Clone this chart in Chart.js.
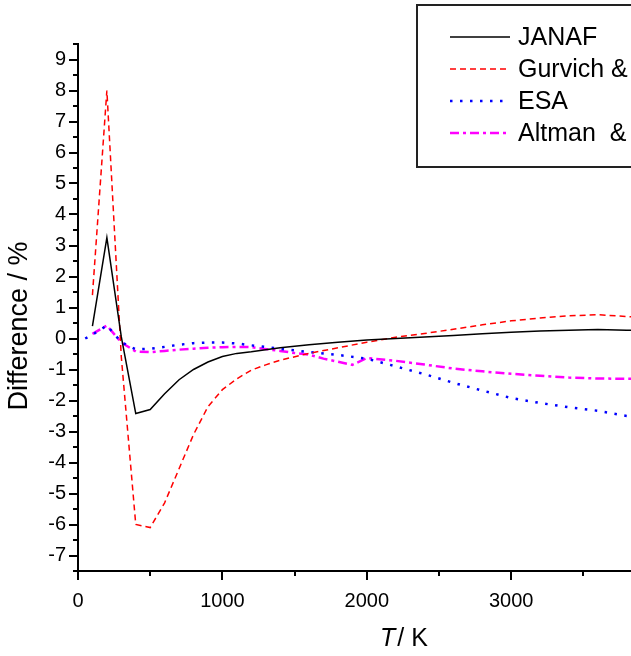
<!DOCTYPE html>
<html>
<head>
<meta charset="utf-8">
<script src="https://cdn.jsdelivr.net/npm/chart.js@4"></script>
<style>
  body { margin: 0; background: #fff; }
  canvas { display: block; }
</style>
</head>
<body>
<canvas id="grafico" width="631" height="656"></canvas>
<script>
// dados (T em K, diferença em %)
const seriesNames = ['JANAF', 'Gurvich &', 'ESA', 'Altman  &'];

const tJanaf = [100, 200, 300, 400, 500, 600, 700, 800, 900, 1000, 1100, 1200, 1400, 1600, 1800, 2000, 2200, 2400, 2600, 2800, 3000, 3200, 3400, 3600, 3800, 4000];
const janaf  = [0.4, 3.25, 0.05, -2.42, -2.29, -1.78, -1.33, -1.0, -0.76, -0.58, -0.48, -0.43, -0.3, -0.2, -0.12, -0.05, 0.0, 0.05, 0.1, 0.15, 0.2, 0.24, 0.27, 0.29, 0.27, 0.25];

const tGurvich = [100, 200, 300, 400, 500, 600, 700, 800, 900, 1000, 1100, 1200, 1300, 1400, 1600, 1800, 2000, 2200, 2400, 2600, 2800, 3000, 3200, 3400, 3600, 3800, 4000];
const gurvich  = [1.4, 8.0, -0.6, -6.0, -6.1, -5.3, -4.2, -3.1, -2.2, -1.65, -1.3, -1.02, -0.85, -0.7, -0.48, -0.3, -0.12, 0.04, 0.16, 0.3, 0.44, 0.57, 0.66, 0.73, 0.77, 0.71, 0.65];

const tEsa = [50, 100, 200, 300, 400, 500, 600, 700, 800, 900, 1000, 1100, 1200, 1400, 1600, 1800, 2000, 2200, 2400, 2600, 2800, 3000, 3200, 3400, 3600, 3800, 4000];
const esa  = [0.0, 0.12, 0.42, -0.12, -0.35, -0.33, -0.27, -0.2, -0.15, -0.13, -0.13, -0.16, -0.22, -0.33, -0.44, -0.53, -0.65, -0.9, -1.15, -1.43, -1.68, -1.92, -2.08, -2.22, -2.33, -2.5, -2.6];

const tAltman = [100, 200, 300, 400, 500, 600, 700, 800, 900, 1000, 1100, 1200, 1400, 1500, 1600, 1700, 1800, 1900, 2000, 2200, 2400, 2600, 2800, 3000, 3200, 3400, 3600, 3800, 4000];
const altman  = [0.15, 0.42, -0.13, -0.42, -0.44, -0.4, -0.36, -0.33, -0.3, -0.28, -0.27, -0.28, -0.4, -0.47, -0.52, -0.65, -0.75, -0.85, -0.63, -0.72, -0.84, -0.97, -1.06, -1.14, -1.2, -1.26, -1.29, -1.3, -1.3];

// eixos
const xMin = 0, xMax = 3830;
const yMin = -7.5, yMax = 9.5;
const xTicks = [0, 500, 1000, 1500, 2000, 2500, 3000, 3500];
const xLabels = ['0', '', '1000', '', '2000', '', '3000', ''];
const yTicks = [];
for (let v = -7.5; v <= 9.5; v += 0.5) yTicks.push(v);

function pontos(ts, vs) {
  return ts.map((t, i) => ({ x: t, y: vs[i] }));
}

const fonte = '"Liberation Sans", Arial, sans-serif';

// marcas dos eixos, títulos e legenda
const extras = {
  id: 'extras',
  afterDraw(chart) {
    const ctx = chart.ctx;
    const xs = chart.scales.x, ys = chart.scales.y;
    const area = chart.chartArea;
    ctx.save();
    ctx.strokeStyle = '#000';
    ctx.lineWidth = 2;
    ctx.beginPath();
    ys.ticks.forEach(t => {
      const py = Math.round(ys.getPixelForValue(t.value));
      const len = Number.isInteger(t.value) ? 9 : 5;
      ctx.moveTo(area.left - len, py);
      ctx.lineTo(area.left, py);
    });
    xs.ticks.forEach(t => {
      const px = Math.round(xs.getPixelForValue(t.value));
      const len = t.value % 1000 === 0 ? 9 : 5;
      ctx.moveTo(px, area.bottom);
      ctx.lineTo(px, area.bottom + len);
    });
    ctx.stroke();

    // título do eixo y
    ctx.fillStyle = '#000';
    ctx.font = '27px ' + fonte;
    ctx.textAlign = 'center';
    ctx.textBaseline = 'middle';
    ctx.save();
    ctx.translate(20, 326);
    ctx.rotate(-Math.PI / 2);
    ctx.fillText('Difference / %', 0, 0);
    ctx.restore();

    // título do eixo x
    ctx.textAlign = 'left';
    ctx.font = 'italic 25px ' + fonte;
    ctx.fillText('T', 380, 639);
    const wT = ctx.measureText('T').width;
    ctx.font = '25px ' + fonte;
    ctx.fillText('/ K', 380 + wT + 2, 639);

    // legenda
    ctx.strokeStyle = '#222';
    ctx.lineWidth = 2;
    ctx.strokeRect(417, 5, 300, 162);
    chart.data.datasets.forEach((ds, i) => {
      const y = 37 + i * 32;
      ctx.beginPath();
      ctx.strokeStyle = ds.borderColor;
      ctx.lineWidth = ds.borderWidth;
      ctx.setLineDash(ds.borderDash || []);
      ctx.moveTo(450, y);
      ctx.lineTo(510, y);
      ctx.stroke();
      ctx.setLineDash([]);
      ctx.fillStyle = '#000';
      ctx.font = '25px ' + fonte;
      ctx.textBaseline = 'middle';
      ctx.fillText(ds.label, 518, y + 1);
    });
    ctx.restore();
  }
};

const ctx = document.getElementById('grafico').getContext('2d');
new Chart(ctx, {
  type: 'line',
  data: {
    datasets: [
      { label: seriesNames[0], data: pontos(tJanaf, janaf), borderColor: '#000000', borderWidth: 1.5 },
      { label: seriesNames[1], data: pontos(tGurvich, gurvich), borderColor: '#ff0000', borderWidth: 1.5, borderDash: [6, 4] },
      { label: seriesNames[2], data: pontos(tEsa, esa), borderColor: '#0000ff', borderWidth: 2.5, borderDash: [2.5, 7.5] },
      { label: seriesNames[3], data: pontos(tAltman, altman), borderColor: '#ff00ff', borderWidth: 2.5, borderDash: [9, 4, 3, 4] }
    ]
  },
  options: {
    responsive: false,
    animation: false,
    devicePixelRatio: 1,
    elements: { point: { radius: 0 }, line: { tension: 0, fill: false } },
    layout: { padding: { top: 44, right: 0, left: 0, bottom: 0 } },
    plugins: { legend: { display: false }, tooltip: { enabled: false } },
    scales: {
      x: {
        type: 'linear',
        min: xMin,
        max: xMax,
        grid: { display: false, drawTicks: false },
        border: { display: true, color: '#000', width: 2 },
        afterBuildTicks: s => { s.ticks = xTicks.map(v => ({ value: v })); },
        ticks: {
          autoSkip: false,
          maxRotation: 0,
          padding: 18,
          color: '#000',
          font: { family: fonte, size: 20 },
          callback: (v, i) => xLabels[i]
        },
        afterFit: s => { s.height = 85; s.paddingLeft = 0; s.paddingRight = 0; }
      },
      y: {
        min: yMin,
        max: yMax,
        grid: { display: false, drawTicks: false },
        border: { display: true, color: '#000', width: 2 },
        afterBuildTicks: s => { s.ticks = yTicks.map(v => ({ value: v })); },
        ticks: {
          autoSkip: false,
          padding: 12,
          color: '#000',
          font: { family: fonte, size: 20 },
          callback: v => (Number.isInteger(v) ? String(v) : '')
        },
        afterFit: s => { s.width = 78; s.paddingTop = 0; s.paddingBottom = 0; }
      }
    }
  },
  plugins: [extras]
});
</script>
</body>
</html>
